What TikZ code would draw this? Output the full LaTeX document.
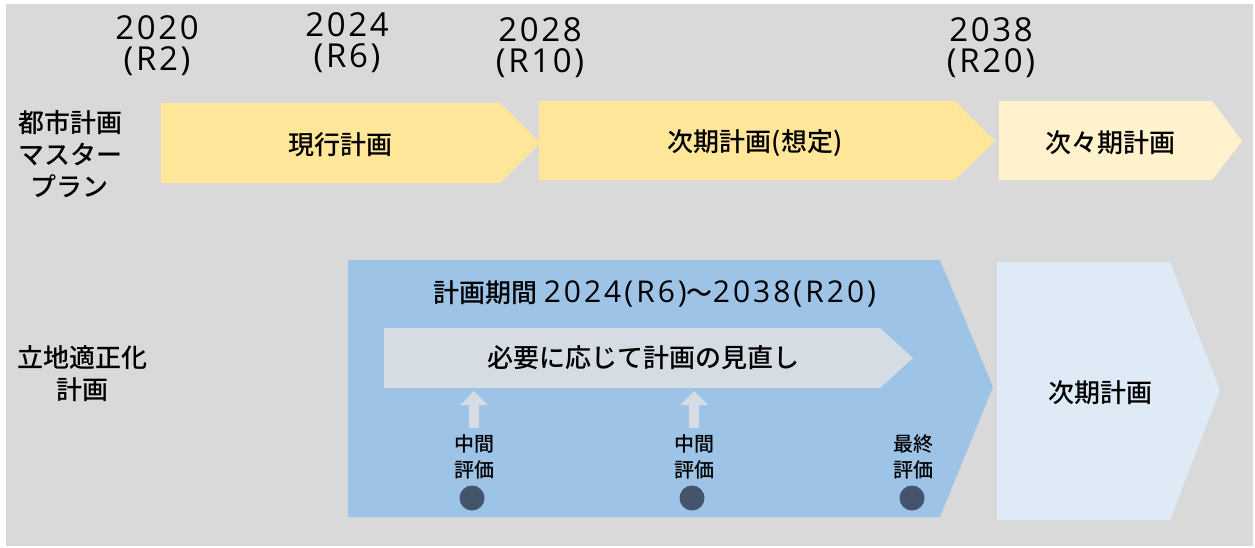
\documentclass[tikz,border=0pt]{standalone}
\usepackage{fontspec}
\setmainfont{Noto Sans CJK JP}[UprightFont=* Medium]
\newfontfamily\lat{Open Sans}[LetterSpace=8]
\newfontfamily\latp{Open Sans}[LetterSpace=10]
\definecolor{bg}{HTML}{D9D9D9}
\definecolor{yel}{HTML}{FFE699}
\definecolor{yellight}{HTML}{FFF2CC}
\definecolor{blu}{HTML}{9DC3E6}
\definecolor{blulight}{HTML}{DEEBF7}
\definecolor{inner}{HTML}{D6DCE4}
\definecolor{dot}{HTML}{44546A}
\begin{document}
\begin{tikzpicture}[x=1pt,y=-1pt,
  lbl/.style={inner sep=0pt, align=center, font=\fontsize{26}{32}\selectfont},
  year/.style={inner sep=0pt, align=center, font=\lat\fontsize{33}{31}\selectfont},
  small/.style={inner sep=0pt, align=center, font=\fontsize{20}{26}\selectfont},
  evdot/.style={circle, fill=dot, minimum size=25pt, inner sep=0pt}]
\useasboundingbox (0,0) rectangle (1255,547);
\fill[white] (0,0) rectangle (1255,547);
\fill[bg] (6,4) rectangle (1253,546);
% year labels
\node[year] (y2020) at (157,46) {2020\\(R2)};
\node[year] (y2024) at (347,43) {2024\\(R6)};
\node[year] (y2028) at (540,48) {2028\\(R10)};
\node[year] (y2038) at (991,48) {2038\\(R20)};
% row labels
\node[lbl] (mp) at (70,154) {都市計画\\マスター\\プラン};
\node[lbl] (rt) at (82,374) {立地適正化\\計画};
% master plan chevrons
\fill[yel] (161,103) -- (500,103) -- (540,143) -- (500,183) -- (161,183) -- cycle;
\node[lbl] (cur) at (340,145) {現行計画};
\fill[yel] (539,101) -- (955,101) -- (995,141) -- (955,180) -- (539,180) -- cycle;
\node[lbl] (nxt) at (755,143) {次期計画(想定)};
\fill[yellight] (999,101) -- (1212,101) -- (1242,141) -- (1212,180) -- (999,180) -- cycle;
\node[lbl] (nxt2) at (1110,143) {次々期計画};
% location plan
\fill[blu] (348,260) -- (940,260) -- (993,387) -- (940,517) -- (348,517) -- cycle;
\node[lbl] (period) at (655,294) {計画期間 {\latp\fontsize{30}{32}\selectfont 2024(R6)}～{\latp\fontsize{30}{32}\selectfont 2038(R20)}};
\fill[inner] (384,328) -- (880,328) -- (913,358) -- (880,388) -- (384,388) -- cycle;
\node[lbl] (rev) at (643,358) {必要に応じて計画の見直し};
\fill[blulight] (997,262) -- (1170,262) -- (1220,390) -- (1170,520) -- (997,520) -- cycle;
\node[lbl] (nxtr) at (1100,393) {次期計画};
% evaluations
\node[small] (ev1) at (474,457) {中間\\評価};
\node[small] (ev2) at (694,457) {中間\\評価};
\node[small] (ev3) at (913,457) {最終\\評価};
\node[evdot] (d1) at (472,498) {};
\node[evdot] (d2) at (692,498) {};
\node[evdot] (d3) at (912,498) {};
% up arrows
\fill[inner] (469,428) -- (469,405) -- (460,405) -- (474,391) -- (488,405) -- (479,405) -- (479,428) -- cycle;
\fill[inner] (689,428) -- (689,405) -- (680,405) -- (694,391) -- (708,405) -- (699,405) -- (699,428) -- cycle;
\end{tikzpicture}
\end{document}
